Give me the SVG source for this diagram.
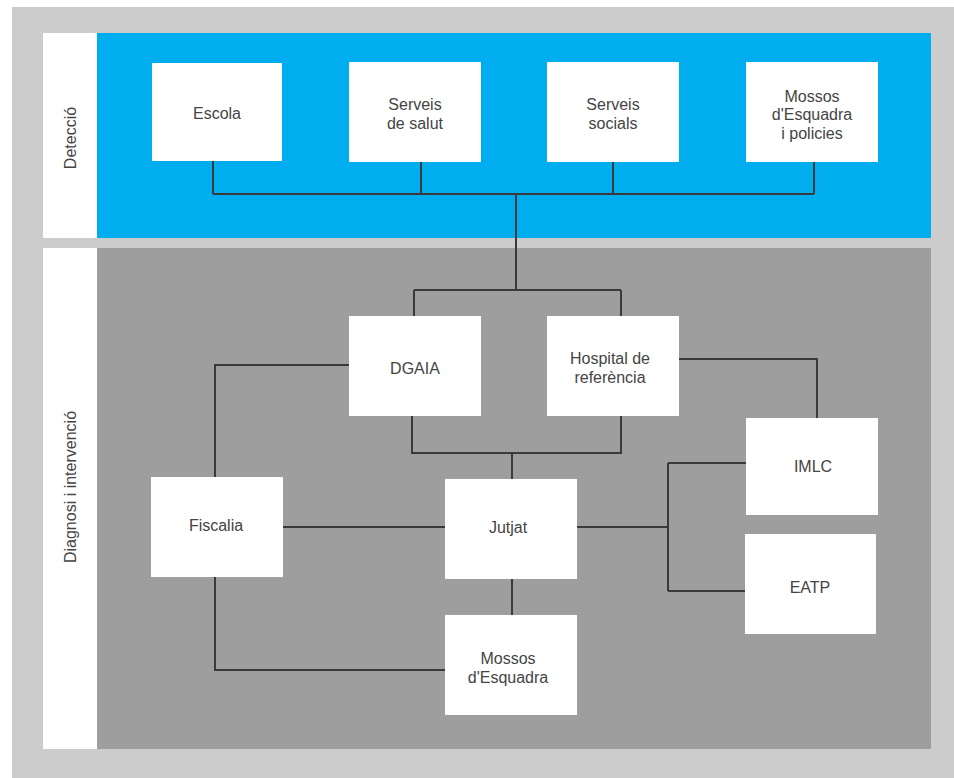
<svg xmlns="http://www.w3.org/2000/svg" width="954" height="778" viewBox="0 0 954 778">
<style>
.node rect{fill:#ffffff;}
.node text,.lbl{font-family:"Liberation Sans",Arial,sans-serif;font-size:16px;fill:#444444;text-anchor:middle;}
.conn path{fill:none;stroke:#3a3a3a;stroke-width:2;}
</style>
<rect x="0" y="0" width="954" height="778" fill="#ffffff"/>
<rect x="12" y="7" width="942" height="771" fill="#cccccc"/>
<g id="lane-detection">
<rect x="43" y="33" width="54" height="205" fill="#ffffff"/>
<rect x="97" y="33" width="834" height="205" fill="#00aeef"/>
<text class="lbl" transform="translate(76,138) rotate(-90)">Detecció</text>
</g>
<g id="lane-diagnosi">
<rect x="43" y="248" width="54" height="501" fill="#ffffff"/>
<rect x="97" y="248" width="834" height="501" fill="#9e9e9e"/>
<text class="lbl" transform="translate(76,487) rotate(-90)">Diagnosi i intervenció</text>
</g>
<g class="conn" id="connectors">
<path d="M213,161 V194 M421,162 V194 M613,162 V194 M814,162 V194 M213,194 H814"/>
<path d="M516,194 V290 M414,290 H621 M414,290 V316 M621,290 V316"/>
<path d="M349,365 H215 V477"/>
<path d="M412,416 V453 H621 V416 M512,453 V479"/>
<path d="M283,527 H445"/>
<path d="M679,359 H817 V418"/>
<path d="M577,527 H668 M668,463 V591 M668,463 H746 M668,591 H745"/>
<path d="M512,579 V615"/>
<path d="M215,577 V670 H445"/>
</g>
<g class="node" id="escola"><rect x="152" y="63" width="130" height="98"/><text x="217" y="118.5">Escola</text></g>
<g class="node" id="serveis-salut"><rect x="349" y="62" width="132" height="100"/><text x="415" y="109.5">Serveis<tspan x="415" dy="19">de salut</tspan></text></g>
<g class="node" id="serveis-socials"><rect x="547" y="62" width="132" height="100"/><text x="613" y="109.5">Serveis<tspan x="613" dy="19">socials</tspan></text></g>
<g class="node" id="mossos-policies"><rect x="746" y="62" width="132" height="100"/><text x="812" y="101.5">Mossos<tspan x="812" dy="18.5">d'Esquadra</tspan><tspan x="812" dy="18.5">i policies</tspan></text></g>
<g class="node" id="dgaia"><rect x="349" y="316" width="132" height="100"/><text x="415" y="373.5">DGAIA</text></g>
<g class="node" id="hospital"><rect x="547" y="316" width="132" height="100"/><text x="610" y="363.5">Hospital de<tspan x="610" dy="19">referència</tspan></text></g>
<g class="node" id="fiscalia"><rect x="151" y="477" width="132" height="100"/><text x="216" y="530.5">Fiscalia</text></g>
<g class="node" id="jutjat"><rect x="445" y="479" width="132" height="100"/><text x="508" y="532.5">Jutjat</text></g>
<g class="node" id="imlc"><rect x="746" y="418" width="132" height="97"/><text x="813" y="471.5">IMLC</text></g>
<g class="node" id="eatp"><rect x="745" y="534" width="131" height="100"/><text x="810" y="592.5">EATP</text></g>
<g class="node" id="mossos"><rect x="445" y="615" width="132" height="100"/><text x="508" y="663.5">Mossos<tspan x="508" dy="19">d'Esquadra</tspan></text></g>
</svg>
